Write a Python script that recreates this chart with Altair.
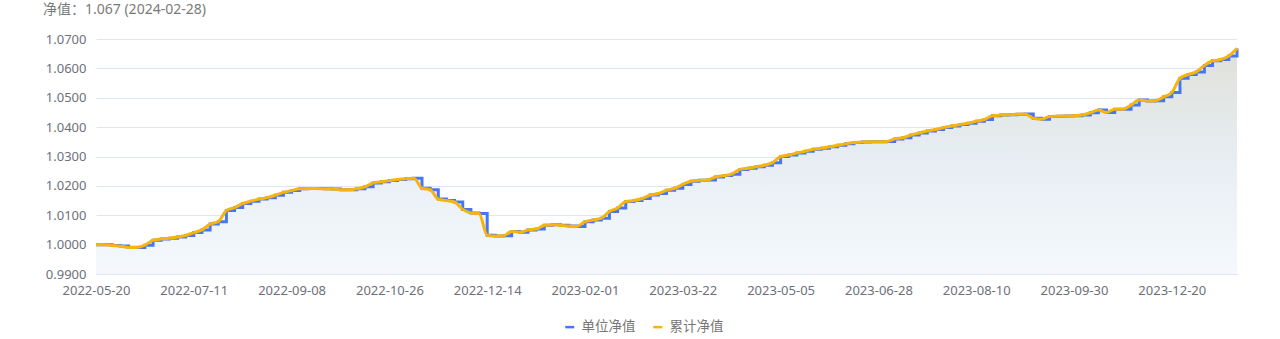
import altair as alt
import pandas as pd

FONT = "Noto Sans, 'Noto Sans CJK SC', sans-serif"

dates = [
    "2022-05-20", "2022-05-24", "2022-05-27", "2022-05-31", "2022-06-02", "2022-06-08",
    "2022-06-10", "2022-06-14", "2022-06-17", "2022-06-24", "2022-06-28", "2022-07-01",
    "2022-07-11", "2022-07-15", "2022-07-22", "2022-07-26", "2022-07-29", "2022-08-05",
    "2022-08-09", "2022-08-12", "2022-08-19", "2022-08-23", "2022-08-26", "2022-09-02",
    "2022-09-08", "2022-09-09", "2022-09-16", "2022-09-20", "2022-09-23", "2022-09-27",
    "2022-09-30", "2022-10-11", "2022-10-14", "2022-10-18", "2022-10-21", "2022-10-24",
    "2022-10-26", "2022-10-28", "2022-11-01", "2022-11-04", "2022-11-08", "2022-11-11",
    "2022-11-15", "2022-11-18", "2022-11-22", "2022-11-25", "2022-12-02", "2022-12-09",
    "2022-12-14", "2022-12-16", "2022-12-20", "2022-12-23", "2022-12-27", "2022-12-30",
    "2023-01-03", "2023-01-06", "2023-01-10", "2023-01-13", "2023-01-17", "2023-01-20",
    "2023-02-01", "2023-02-03", "2023-02-07", "2023-02-10", "2023-02-14", "2023-02-17",
    "2023-02-21", "2023-02-24", "2023-02-28", "2023-03-03", "2023-03-10", "2023-03-17",
    "2023-03-22", "2023-03-24", "2023-03-28", "2023-03-31", "2023-04-04", "2023-04-07",
    "2023-04-11", "2023-04-14", "2023-04-18", "2023-04-21", "2023-04-25", "2023-04-28",
    "2023-05-05", "2023-05-09", "2023-05-12", "2023-05-16", "2023-05-19", "2023-05-23",
    "2023-05-26", "2023-06-02", "2023-06-06", "2023-06-09", "2023-06-16", "2023-06-21",
    "2023-06-28", "2023-06-30", "2023-07-04", "2023-07-07", "2023-07-11", "2023-07-14",
    "2023-07-18", "2023-07-21", "2023-07-25", "2023-07-28", "2023-08-01", "2023-08-04",
    "2023-08-10", "2023-08-11", "2023-08-15", "2023-08-18", "2023-08-22", "2023-08-25",
    "2023-08-29", "2023-09-01", "2023-09-08", "2023-09-15", "2023-09-22", "2023-09-28",
    "2023-09-30", "2023-10-13", "2023-10-20", "2023-10-27", "2023-11-03", "2023-11-10",
    "2023-11-17", "2023-11-24", "2023-11-28", "2023-12-01", "2023-12-08", "2023-12-15",
    "2023-12-20", "2023-12-29", "2024-01-05", "2024-01-12", "2024-01-19", "2024-01-26",
    "2024-02-02", "2024-02-08", "2024-02-28",
]

unit_nav = [
    1.0000, 1.0000, 0.9997, 0.9995, 0.9990, 0.9990, 0.9998, 1.0015, 1.0019, 1.0022, 1.0026, 1.0031,
    1.0041, 1.0050, 1.0070, 1.0078, 1.0116, 1.0126, 1.0140, 1.0148, 1.0155, 1.0160, 1.0168, 1.0178,
    1.0184, 1.0190, 1.0191, 1.0191, 1.0190, 1.0189, 1.0187, 1.0187, 1.0190, 1.0197, 1.0210, 1.0214,
    1.0218, 1.0222, 1.0224, 1.0226, 1.0192, 1.0187, 1.0155, 1.0150, 1.0145, 1.0120, 1.0108, 1.0106,
    1.0032, 1.0029, 1.0030, 1.0045, 1.0042, 1.0050, 1.0053, 1.0066, 1.0068, 1.0066, 1.0063, 1.0062,
    1.0078, 1.0084, 1.0090, 1.0113, 1.0125, 1.0147, 1.0150, 1.0157, 1.0169, 1.0174, 1.0185, 1.0192,
    1.0205, 1.0216, 1.0219, 1.0220, 1.0230, 1.0235, 1.0240, 1.0256, 1.0260, 1.0265, 1.0270, 1.0279,
    1.0300, 1.0305, 1.0312, 1.0318, 1.0325, 1.0328, 1.0333, 1.0338, 1.0343, 1.0348, 1.0349, 1.0350,
    1.0350, 1.0351, 1.0360, 1.0364, 1.0373, 1.0380, 1.0387, 1.0392, 1.0399, 1.0404, 1.0409, 1.0413,
    1.0420, 1.0426, 1.0439, 1.0441, 1.0442, 1.0444, 1.0445, 1.0430, 1.0427, 1.0436, 1.0437, 1.0438,
    1.0439, 1.0441, 1.0449, 1.0458, 1.0450, 1.0461, 1.0461, 1.0475, 1.0492, 1.0489, 1.0490, 1.0503,
    1.0518, 1.0566, 1.0579, 1.0588, 1.0610, 1.0626, 1.0630, 1.0642, 1.0668,
]

# no dividends: cumulative NAV equals unit NAV
cum_nav = list(unit_nav)

x_labels = [
    "2022-05-20", "2022-07-11", "2022-09-08", "2022-10-26", "2022-12-14", "2023-02-01",
    "2023-03-22", "2023-05-05", "2023-06-28", "2023-08-10", "2023-09-30", "2023-12-20",
]
y_ticks = [0.99, 1.00, 1.01, 1.02, 1.03, 1.04, 1.05, 1.06, 1.07]
series_names = ["单位净值", "累计净值"]
series_colors = ["#4577f5", "#f8b30c"]

title_text = f"净值：{cum_nav[-1]:.3f} ({dates[-1]})"

df = pd.DataFrame({"date": dates, "unit": unit_nav, "cum": cum_nav})

x_enc = alt.X(
    "date:O", sort=None, scale=alt.Scale(type="point", padding=0),
    axis=alt.Axis(values=x_labels, labelAngle=0, ticks=False, domainColor="#E0E6F1",
                  labelColor="#6E7079", labelFontSize=13, labelPadding=10, title=None,
                  grid=False, labelFont=FONT, labelOverlap=False),
)
y_scale = alt.Scale(domain=[0.99, 1.07], zero=False, nice=False)
y_axis = alt.Axis(values=y_ticks, format=".4f", domain=False, ticks=False,
                  gridColor="#E0E6F1", labelColor="#6E7079", labelFontSize=13,
                  labelPadding=10, title=None, labelFont=FONT)

color_scale = alt.Scale(domain=series_names, range=series_colors)
legend = alt.Legend(orient="none", legendX=467, legendY=281, direction="horizontal",
                    symbolType="stroke", symbolSize=81, symbolStrokeWidth=2.5,
                    labelFontSize=13.5, labelColor="#777777", labelFont=FONT,
                    columnPadding=12, labelOffset=5, title=None)
color_enc = alt.Color("series:N", scale=color_scale, legend=legend)

base = alt.Chart(df)

gradient = alt.Gradient(
    gradient="linear", x1=0, x2=0, y1=0, y2=1,
    stops=[alt.GradientStop(color="#e0e0d9", offset=0),
           alt.GradientStop(color="#e6edf1", offset=0.45),
           alt.GradientStop(color="#f5f9fe", offset=1)],
)

area = base.mark_area(interpolate="step-after", fill=gradient).encode(
    x=x_enc,
    y=alt.Y("unit:Q", scale=y_scale, axis=y_axis),
    y2=alt.datum(0.99),
)

blue = base.transform_calculate(series=f"'{series_names[0]}'").mark_line(
    interpolate="step-after", strokeWidth=3
).encode(
    x=x_enc,
    y=alt.Y("unit:Q", scale=y_scale, axis=y_axis),
    color=color_enc,
)

orange = base.transform_calculate(series=f"'{series_names[1]}'").mark_line(
    interpolate="monotone", strokeWidth=3
).encode(
    x=x_enc,
    y=alt.Y("cum:Q", scale=y_scale, axis=y_axis),
    color=color_enc,
)

title = alt.Chart(pd.DataFrame({"t": [title_text]})).mark_text(
    align="left", baseline="middle", fontSize=14, color="#7a7a7a", font=FONT
).encode(text="t:N", x=alt.value(-53), y=alt.value(-29))

chart = alt.layer(area, blue, orange, title).properties(
    width=1141, height=235,
    autosize=alt.AutoSizeParams(type="none"),
    padding={"left": 96, "top": 39, "right": 43, "bottom": 65},
    background="white",
).configure_view(stroke=None)

chart.save("out.html", embed_options={"renderer": "svg", "actions": False})
